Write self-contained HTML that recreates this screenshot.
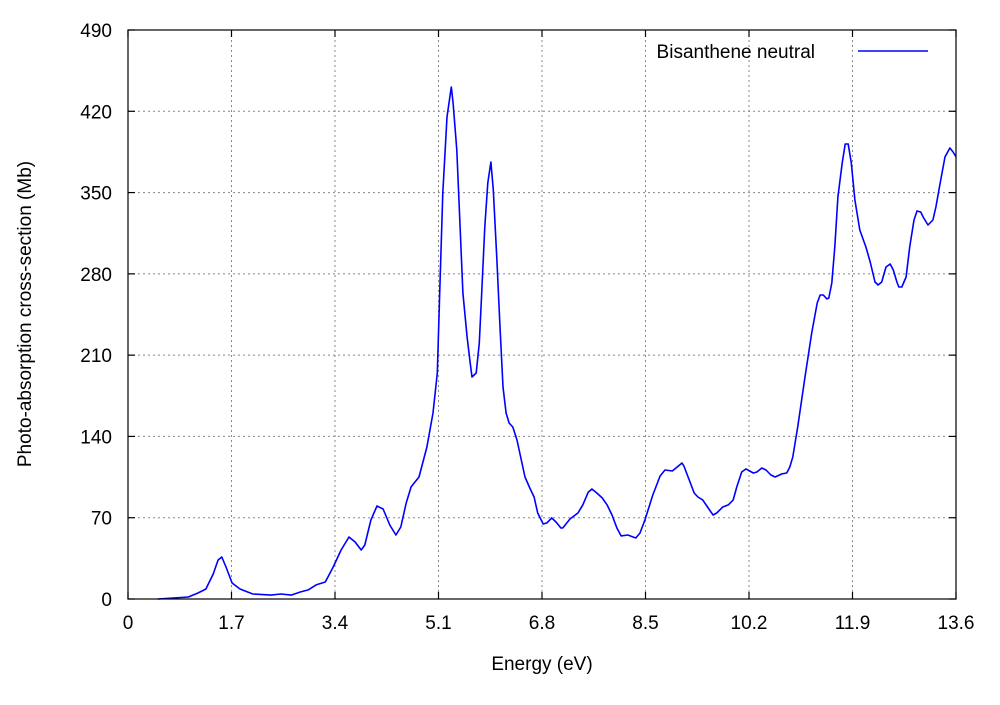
<!DOCTYPE html>
<html><head><meta charset="utf-8"><style>
body{margin:0;background:#fff}
svg text{font-family:"Liberation Sans",sans-serif;font-size:19px;fill:#000}
</style></head><body>
<svg id="chart" width="1000" height="700" xmlns="http://www.w3.org/2000/svg">
<g id="grid"></g>
<g id="axes"></g>
<path id="series" fill="none" stroke="#0000ff" stroke-width="1.6" stroke-linejoin="round"/>
<rect x="128" y="30" width="828" height="569" fill="none" stroke="#000" stroke-width="1.2"/>
<text x="542" y="670" text-anchor="middle">Energy (eV)</text>
<text transform="translate(31,314) rotate(-90)" text-anchor="middle">Photo-absorption cross-section (Mb)</text>
<g>
<text x="815" y="58" text-anchor="end">Bisanthene neutral</text>
<line x1="858" y1="51" x2="928" y2="51" stroke="#0000ff" stroke-width="1.6"/>
</g>
</svg>
<script>
const xTicks=["0","1.7","3.4","5.1","6.8","8.5","10.2","11.9","13.6"];
const yTicks=["0","70","140","210","280","350","420","490"];
const energy=[0.49,0.99,1.15,1.28,1.40,1.48,1.54,1.61,1.71,1.84,2.05,2.35,2.51,2.68,2.83,2.96,3.09,3.24,3.37,3.50,3.63,3.73,3.83,3.89,3.99,4.09,4.19,4.30,4.40,4.48,4.57,4.65,4.78,4.91,5.01,5.08,5.12,5.17,5.24,5.31,5.34,5.40,5.45,5.50,5.57,5.62,5.65,5.72,5.77,5.81,5.86,5.91,5.96,6.00,6.06,6.11,6.16,6.21,6.26,6.32,6.39,6.46,6.52,6.60,6.67,6.73,6.82,6.88,6.96,7.03,7.11,7.14,7.26,7.39,7.47,7.56,7.62,7.70,7.79,7.87,7.95,8.03,8.10,8.21,8.34,8.41,8.49,8.62,8.74,8.82,8.94,9.02,9.10,9.13,9.20,9.30,9.36,9.44,9.53,9.61,9.67,9.77,9.86,9.94,10.00,10.08,10.15,10.27,10.33,10.41,10.48,10.56,10.63,10.74,10.82,10.87,10.92,11.00,11.12,11.23,11.32,11.37,11.42,11.48,11.51,11.56,11.61,11.66,11.73,11.78,11.83,11.88,11.94,12.02,12.12,12.19,12.27,12.32,12.38,12.45,12.52,12.57,12.63,12.66,12.71,12.78,12.84,12.91,12.96,13.02,13.07,13.14,13.22,13.27,13.34,13.42,13.50,13.55,13.60];
const crossSection=[0,1.7,5.2,8.6,21.5,33.6,36.2,27.6,13.8,8.6,4.3,3.4,4.3,3.4,6.0,7.8,12.1,14.6,27.6,42.2,53.4,49.1,42.2,46.5,68.0,80.1,77.5,63.7,55.1,62.0,82.7,96.5,105.1,130.9,160.2,194.6,263.5,349.6,415.1,440.9,427.2,386.7,326.4,263.5,225.6,203.2,191.2,194.6,220.5,263.5,320.4,358.3,376.3,352.2,291.9,234.2,182.6,160.2,151.6,148.1,136.9,119.7,105.1,95.6,87.8,74.1,64.6,65.5,69.8,66.3,61.1,61.1,68.9,74.1,81.0,92.1,94.7,91.3,87.0,81.0,72.3,61.1,54.3,55.1,52.5,56.8,68.0,89.6,105.9,111.1,110.2,113.7,117.1,114.5,105.1,91.3,87.8,85.3,78.4,72.3,74.1,79.2,81.0,85.3,96.5,109.4,112.0,108.5,109.4,112.8,111.1,106.8,105.1,107.7,108.5,113.7,122.3,148.1,191.2,229.1,254.9,261.8,261.8,258.4,259.2,272.1,303.1,346.2,375.5,391.8,391.8,375.5,343.6,317.8,303.1,290.2,273.0,270.4,273.0,285.9,288.5,283.3,273.0,268.7,268.7,277.3,303.1,326.4,334.1,333.3,328.1,322.1,326.4,337.6,358.3,380.7,388.4,385.0,380.7];
const L=128,R=956,T=30,B=599,XMAX=13.6,YMAX=490;
const sx=v=>L+v/XMAX*(R-L), sy=v=>B-v/YMAX*(B-T);
const NS="http://www.w3.org/2000/svg";
const grid=document.getElementById('grid'), axes=document.getElementById('axes');
function mk(tag,attrs,parent){const e=document.createElementNS(NS,tag);for(const k in attrs)e.setAttribute(k,attrs[k]);parent.appendChild(e);return e;}
xTicks.forEach((t)=>{const x=sx(parseFloat(t));
 if(x>L+1&&x<R-1){const g=mk('line',{x1:x,y1:T,x2:x,y2:B,stroke:'#888','stroke-width':1,'stroke-dasharray':'2,3'},grid);
 
 }
 const a=mk('line',{x1:x,y1:B,x2:x,y2:B-7,stroke:'#000','stroke-width':1.2},axes);
 
 
 const b=mk('line',{x1:x,y1:T,x2:x,y2:T+7,stroke:'#000','stroke-width':1.2},axes);
 
 
 const l=mk('text',{x:x,y:B+30,'text-anchor':'middle'},axes);l.textContent=t;
 
 
});
yTicks.forEach((t)=>{const y=sy(parseFloat(t));
 if(y>T+1&&y<B-1){const g=mk('line',{x1:L,y1:y,x2:R,y2:y,stroke:'#888','stroke-width':1,'stroke-dasharray':'2,3'},grid);
 
 }
 const a=mk('line',{x1:L,y1:y,x2:L+7,y2:y,stroke:'#000','stroke-width':1.2},axes);
 
 
 const b=mk('line',{x1:R,y1:y,x2:R-7,y2:y,stroke:'#000','stroke-width':1.2},axes);
 
 
 const l=mk('text',{x:L-16,y:y+7,'text-anchor':'end'},axes);l.textContent=t;
 
 
});
document.getElementById('series').setAttribute('d',energy.map((e,i)=>(i?'L':'M')+sx(e).toFixed(1)+','+sy(crossSection[i]).toFixed(1)).join(''));
</script>
</body></html>
